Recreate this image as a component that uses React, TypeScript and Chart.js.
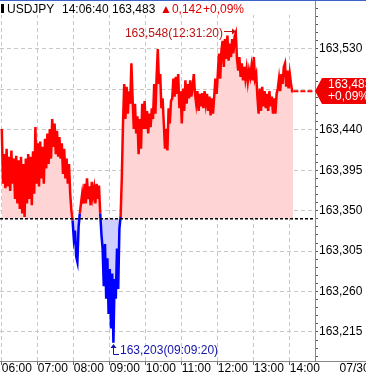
import React, { useEffect, useRef } from 'react';
import { Chart, registerables } from 'chart.js';

Chart.register(...registerables);

// ---- data ----
const symbol = 'USDJPY';
const quoteTime = '14:06:40';
const lastPriceText = '163,483';
const changeText = '▲0,142';
const changePctText = '+0,09%';
const prevClose = 163.341;
const startMinute = 0; // minutes after 06:00
const stepMinutes = 2;
const prices = [
  163.441, 163.380, 163.413, 163.375, 163.419, 163.377, 163.410, 163.372, 163.417, 163.380,
  163.408, 163.363, 163.411, 163.358, 163.406, 163.352, 163.410, 163.347, 163.402, 163.343,
  163.408, 163.358, 163.413, 163.363, 163.410, 163.356, 163.416, 163.369, 163.443, 163.380,
  163.425, 163.377, 163.427, 163.386, 163.421, 163.380, 163.430, 163.397, 163.436, 163.402,
  163.441, 163.408, 163.452, 163.421, 163.447, 163.413, 163.439, 163.410, 163.432, 163.408,
  163.425, 163.391, 163.419, 163.386, 163.408, 163.380, 163.402, 163.369, 163.350, 163.339,
  163.319, 163.328, 163.299, 163.293, 163.332, 163.347, 163.358, 163.369, 163.358, 163.380,
  163.358, 163.386, 163.363, 163.377, 163.356, 163.382, 163.366, 163.375, 163.358, 163.380,
  163.363, 163.378, 163.347, 163.324, 163.308, 163.266, 163.313, 163.252, 163.297, 163.235,
  163.285, 163.219, 163.280, 163.203, 163.274, 163.252, 163.308, 163.263, 163.330, 163.343,
  163.386, 163.447, 163.491, 163.452, 163.488, 163.458, 163.483, 163.469, 163.514, 163.475,
  163.441, 163.469, 163.436, 163.455, 163.413, 163.452, 163.419, 163.469, 163.441, 163.472,
  163.441, 163.461, 163.436, 163.458, 163.443, 163.464, 163.452, 163.491, 163.458, 163.499,
  163.530, 163.491, 163.502, 163.464, 163.475, 163.447, 163.419, 163.441, 163.417, 163.464,
  163.447, 163.472, 163.475, 163.497, 163.477, 163.499, 163.480, 163.502, 163.464, 163.483,
  163.447, 163.486, 163.461, 163.495, 163.469, 163.491, 163.475, 163.495, 163.477, 163.488,
  163.502, 163.480, 163.469, 163.483, 163.461, 163.480, 163.466, 163.481, 163.464, 163.483,
  163.469, 163.480, 163.461, 163.477, 163.456, 163.475, 163.458, 163.477, 163.497, 163.480,
  163.502, 163.525, 163.497, 163.528, 163.539, 163.510, 163.541, 163.519, 163.545, 163.517,
  163.536, 163.521, 163.541, 163.525, 163.544, 163.548, 163.519, 163.506, 163.521, 163.499,
  163.514, 163.495, 163.510, 163.497, 163.508, 163.494, 163.506, 163.499, 163.510, 163.495,
  163.521, 163.497, 163.502, 163.477, 163.458, 163.486, 163.461, 163.488, 163.466, 163.483,
  163.464, 163.480, 163.461, 163.483, 163.466, 163.477, 163.458, 163.475, 163.458, 163.480,
  163.486, 163.497, 163.483, 163.502, 163.491, 163.510, 163.514, 163.488, 163.506, 163.486,
  163.502, 163.491, 163.483, 163.483,
];
const highLabel = '163,548(12:31:20)';
const lowLabel = '163,203(09:09:20)';
const xTickValues = [0, 60, 120, 180, 240, 300, 360, 420, 480];
const xTickLabels = ['06:00', '07:00', '08:00', '09:00', '10:00', '11:00', '12:00', '13:00', '14:00'];
const dateLabel = '07/30';
const dateLabelMinute = 563;
const extensionEndMinute = 518;
const yTickValues = [163.215, 163.26, 163.305, 163.35, 163.395, 163.44, 163.485, 163.53];
const yTickLabels = ['163,215', '163,260', '163,305', '163,350', '163,395', '163,440', '163,485', '163,530'];
const yMinorStep = 0.009;
const xMin = -3;
const xMax = 522;
const yMin = 163.1827;
const yMax = 163.5845;

// ---- styles ----
const FONT = '"Liberation Sans", Arial, sans-serif';
const FS = 12;
const RED = '#ff0000';
const BLUE = '#0000ff';
const GRID = 'rgb(200,200,200)';

const isMajor = (v: number) => yTickValues.findIndex((t) => Math.abs(t - v) < 1e-6);

const overlay = {
  id: 'overlay',
  afterDraw(chart: any) {
    const { ctx, chartArea } = chart;
    const x = chart.scales.x;
    const y = chart.scales.y;
    const times = prices.map((_, i) => startMinute + i * stepMinutes);
    ctx.save();
    // header background
    ctx.fillStyle = '#fff';
    ctx.fillRect(0, 0, chartArea.right - 1, 15);
    ctx.strokeStyle = 'rgb(60,100,200)';
    ctx.lineWidth = 1;
    ctx.beginPath();
    ctx.moveTo(0, 0.5);
    ctx.lineTo(366, 0.5);
    ctx.stroke();
    // x axis line extension
    ctx.strokeStyle = '#888';
    ctx.beginPath();
    ctx.moveTo(chartArea.right, chartArea.bottom + 0.5);
    ctx.lineTo(366, chartArea.bottom + 0.5);
    ctx.stroke();

    // header text
    ctx.font = `${FS}px ${FONT}`;
    ctx.textBaseline = 'alphabetic';
    ctx.textAlign = 'left';
    ctx.fillStyle = '#000';
    ctx.fillRect(1, 4, 3, 9);
    ctx.fillText(symbol, 7, 13);
    ctx.fillText(quoteTime, 62, 13);
    ctx.fillText(lastPriceText, 112, 13);
    ctx.fillStyle = 'rgb(225,0,0)';
    ctx.fillText(changeText, 160, 13);
    ctx.fillText(changePctText, 203, 13);

    // high label
    let hi = 0;
    let lo = 0;
    prices.forEach((p, i) => {
      if (p > prices[hi]) hi = i;
      if (p < prices[lo]) lo = i;
    });
    const hx = Math.round(x.getPixelForValue(times[hi]));
    const hy = Math.round(y.getPixelForValue(prices[hi]));
    ctx.fillStyle = 'rgb(190,20,20)';
    ctx.strokeStyle = 'rgb(190,20,20)';
    ctx.textAlign = 'right';
    ctx.textBaseline = 'middle';
    ctx.fillText(highLabel, hx - 13, hy + 1);
    ctx.beginPath();
    ctx.moveTo(hx - 12, hy - 1.5);
    ctx.lineTo(hx - 1, hy - 1.5);
    ctx.moveTo(hx - 0.5, hy - 2);
    ctx.lineTo(hx - 0.5, hy + 4);
    ctx.stroke();
    ctx.beginPath();
    ctx.moveTo(hx, hy - 1.5);
    ctx.lineTo(hx - 4, hy - 4.5);
    ctx.lineTo(hx - 4, hy + 1.5);
    ctx.closePath();
    ctx.fill();

    // low label
    const lx = Math.round(x.getPixelForValue(times[lo]));
    const ly = Math.round(y.getPixelForValue(prices[lo]));
    ctx.fillStyle = 'rgb(20,20,170)';
    ctx.strokeStyle = 'rgb(20,20,170)';
    ctx.beginPath();
    ctx.moveTo(lx + 0.5, ly + 3);
    ctx.lineTo(lx + 0.5, ly + 11.5);
    ctx.lineTo(lx + 6, ly + 11.5);
    ctx.stroke();
    ctx.beginPath();
    ctx.moveTo(lx + 0.5, ly + 1);
    ctx.lineTo(lx - 2.5, ly + 5);
    ctx.lineTo(lx + 3.5, ly + 5);
    ctx.closePath();
    ctx.fill();
    ctx.textAlign = 'left';
    ctx.fillText(lowLabel, lx + 7, ly + 8);

    // price tag
    const last = prices[prices.length - 1];
    const py = Math.round(y.getPixelForValue(last));
    const tx = chartArea.right;
    ctx.fillStyle = 'rgb(240,0,0)';
    ctx.beginPath();
    ctx.moveTo(tx, py);
    ctx.lineTo(tx + 7, py - 13);
    ctx.lineTo(366, py - 13);
    ctx.lineTo(366, py + 13);
    ctx.lineTo(tx + 7, py + 13);
    ctx.closePath();
    ctx.fill();
    ctx.fillStyle = '#fff';
    ctx.textAlign = 'left';
    ctx.textBaseline = 'middle';
    ctx.font = `${FS}px ${FONT}`;
    ctx.fillText(lastPriceText, tx + 13, py - 6);
    ctx.fillText(changePctText, tx + 13, py + 6);

    // date label
    ctx.fillStyle = '#000';
    ctx.fillText(dateLabel, x.getPixelForValue(dateLabelMinute), chartArea.bottom + 8);
    ctx.restore();
  },
};

export default function App() {
  const ref = useRef<HTMLCanvasElement>(null);
  useEffect(() => {
    document.body.style.margin = '0';
    const canvas = ref.current!;
    const times = prices.map((_, i) => startMinute + i * stepMinutes);
    const points = prices.map((p, i) => ({ x: times[i], y: p }));
    const last = prices[prices.length - 1];
    const chart = new Chart(canvas, {
      type: 'line',
      data: {
        datasets: [
          {
            data: [
              { x: xMin, y: prevClose },
              { x: xMax, y: prevClose },
            ],
            borderColor: '#000',
            borderWidth: 1.5,
            borderDash: [3, 2],
            pointRadius: 0,
            fill: false,
            order: 0,
          },
          {
            data: points,
            borderWidth: 2.5,
            borderColor: RED,
            pointRadius: 0,
            fill: { target: { value: prevClose }, above: 'rgb(255,212,212)', below: 'rgb(206,206,255)' },
            segment: {
              borderColor: (c: any) => ((c.p0.parsed.y + c.p1.parsed.y) / 2 >= prevClose ? RED : BLUE),
            },
            order: 1,
          },
          {
            data: [
              { x: times[times.length - 1], y: last },
              { x: extensionEndMinute, y: last },
            ],
            borderColor: RED,
            borderWidth: 2,
            borderDash: [5, 2],
            pointRadius: 0,
            fill: false,
            order: 1,
          },
        ],
      } as any,
      options: {
        responsive: false,
        devicePixelRatio: 1,
        animation: false,
        events: [],
        layout: { padding: 0, autoPadding: false },
        plugins: { legend: { display: false }, tooltip: { enabled: false } },
        scales: {
          x: {
            type: 'linear',
            position: 'bottom',
            min: xMin,
            max: xMax,
            afterBuildTicks: (s: any) => {
              s.ticks = xTickValues.map((v) => ({ value: v }));
            },
            afterFit: (s: any) => {
              s.height = 19;
              s.paddingLeft = 0;
              s.paddingRight = 0;
            },
            ticks: {
              callback: (_v: any, i: number) => xTickLabels[i],
              align: 'start',
              color: '#000',
              font: { family: FONT, size: FS, lineHeight: 1 },
              padding: -2,
              maxRotation: 0,
              autoSkip: false,
            },
            grid: { color: GRID, tickColor: '#666', tickLength: 4, lineWidth: 1 },
            border: { display: true, color: '#888', width: 1, dash: [4, 3] },
          },
          y: {
            type: 'linear',
            position: 'right',
            min: yMin,
            max: yMax,
            afterBuildTicks: (s: any) => {
              const t: any[] = [];
              for (let k = -3; k < 100; k++) {
                const v = +(yTickValues[0] + k * yMinorStep).toFixed(3);
                if (v > yMax) break;
                t.push({ value: v });
              }
              s.ticks = t;
            },
            afterFit: (s: any) => {
              s.width = 51;
              s.paddingTop = 0;
              s.paddingBottom = 0;
            },
            ticks: {
              callback: (v: any) => {
                const k = isMajor(v);
                return k >= 0 ? yTickLabels[k] : '';
              },
              autoSkip: false,
              padding: 1,
              color: '#000',
              font: { family: FONT, size: FS, lineHeight: 1 },
            },
            grid: {
              color: (c: any) => (c.tick && isMajor(c.tick.value) >= 0 ? GRID : 'rgba(0,0,0,0)'),
              tickColor: '#555',
              tickLength: 3,
              lineWidth: 1,
            },
            border: { display: true, color: '#888', width: 1, dash: [4, 3] },
          },
        },
      } as any,
      plugins: [overlay],
    });
    return () => chart.destroy();
  }, []);
  return (
    <div style={{ width: 366, height: 380 }}>
      <canvas ref={ref} width={366} height={380} style={{ display: 'block' }} />
    </div>
  );
}
